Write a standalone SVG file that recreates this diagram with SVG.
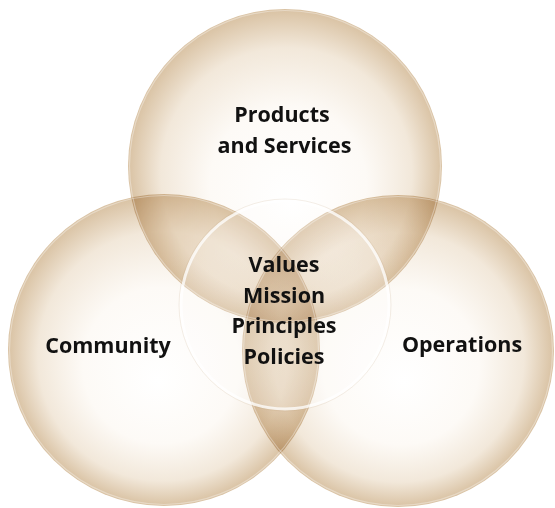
<svg xmlns="http://www.w3.org/2000/svg" width="555" height="508" viewBox="0 0 555 508">
<defs>
<radialGradient id="gTop" cx="50%" cy="50%" r="50%" fx="52%" fy="62%">
<stop offset="0" stop-color="#ffffff"/>
<stop offset="0.5" stop-color="#fdfaf6"/>
<stop offset="0.8" stop-color="#f2e8da"/>
<stop offset="1" stop-color="#d9c2a3"/>
</radialGradient>
<radialGradient id="gLeft" cx="50%" cy="50%" r="50%" fx="48%" fy="60%">
<stop offset="0" stop-color="#ffffff"/>
<stop offset="0.5" stop-color="#fdfaf6"/>
<stop offset="0.8" stop-color="#f2e8da"/>
<stop offset="1" stop-color="#d9c2a3"/>
</radialGradient>
<radialGradient id="gRight" cx="50%" cy="50%" r="50%" fx="52%" fy="60%">
<stop offset="0" stop-color="#ffffff"/>
<stop offset="0.5" stop-color="#fdfaf6"/>
<stop offset="0.8" stop-color="#f2e8da"/>
<stop offset="1" stop-color="#d9c2a3"/>
</radialGradient>
</defs>
<style>
.big{mix-blend-mode:multiply;}
.rim{fill:none;stroke:#ffffff;stroke-opacity:0.35;stroke-width:1.2;}
.lbl{font-family:"Open Sans","Noto Sans","Liberation Sans",sans-serif;font-weight:700;font-size:21.5px;fill:#111111;text-anchor:middle;}
</style>
<rect width="555" height="508" fill="#ffffff"/>
<g id="top">
<circle class="big" cx="285" cy="166" r="157" fill="url(#gTop)"/>
</g>
<g id="left">
<circle class="big" cx="164" cy="350" r="156" fill="url(#gLeft)"/>
</g>
<g id="right">
<circle class="big" cx="398" cy="351" r="156" fill="url(#gRight)"/>
</g>
<g id="rims">
<circle class="rim" cx="285" cy="166" r="155.5"/>
<circle class="rim" cx="164" cy="350" r="154.5"/>
<circle class="rim" cx="398" cy="351" r="154.5"/>
</g>
<g id="core">
<circle cx="285" cy="305" r="104" fill="#ffffff" fill-opacity="0.2" stroke="#ffffff" stroke-opacity="0.75" stroke-width="3"/>
<circle cx="285" cy="305" r="106" fill="none" stroke="#b89a74" stroke-opacity="0.2" stroke-width="0.8"/>
</g>
<g id="connectors"></g>
<g id="labels">
<text class="lbl" x="282" y="122">Products</text>
<text class="lbl" x="284.5" y="153">and Services</text>
<text class="lbl" x="284" y="272">Values</text>
<text class="lbl" x="284" y="303">Mission</text>
<text class="lbl" x="284" y="333">Principles</text>
<text class="lbl" x="284" y="364">Policies</text>
<text class="lbl" x="108" y="353">Community</text>
<text class="lbl" x="462" y="352">Operations</text>
</g>
</svg>
